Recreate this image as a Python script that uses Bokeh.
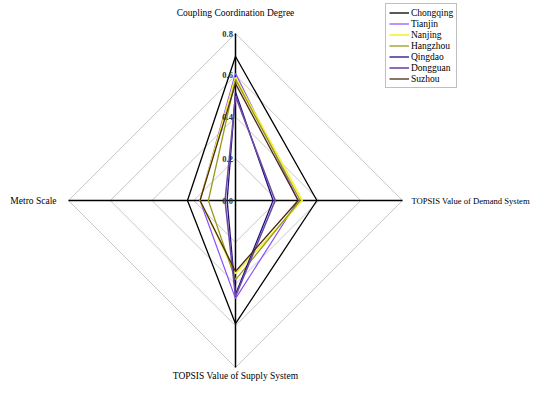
import numpy as np
from bokeh.plotting import figure
from bokeh.models import Legend, LegendItem
from bokeh.core.properties import value
from bokeh.embed import file_html
from bokeh.resources import INLINE

# ---- data ----
axis_names = ["Coupling Coordination Degree", "TOPSIS Value of Demand System",
              "TOPSIS Value of Supply System", "Metro Scale"]
cities = ["Chongqing", "Tianjin", "Nanjing", "Hangzhou", "Qingdao", "Dongguan", "Suzhou"]
ccd    = [0.69, 0.61, 0.59, 0.58, 0.52, 0.50, 0.56]
demand = [0.39, 0.30, 0.32, 0.31, 0.18, 0.19, 0.30]
supply = [0.59, 0.47, 0.35, 0.38, 0.45, 0.46, 0.34]
metro  = [0.23, 0.17, 0.17, 0.13, 0.04, 0.05, 0.17]
tick_values = [0.0, 0.2, 0.4, 0.6, 0.8]
tick_labels = ["0.0", "0.2", "0.4", "0.6", "0.8"]

colors = ["#000000", "#8a4dff", "#f4f032", "#9a9a1a", "#1c1280", "#6e4a9e", "#4a2a10"]
widths = [1.3, 1.2, 1.6, 1.3, 1.3, 1.6, 1.3]

# ---- layout ----
W, H = 534, 382
cx, cy = 235, 200           # centre in figure pixels (from top-left)
s = 167 / 0.8               # pixels per unit
rmax = 0.8
angles = np.deg2rad([90, 0, 270, 180])

x0 = -cx / s
x1 = (W - cx) / s
y1 = cy / s
y0 = -(H - cy) / s

p = figure(width=W, height=H, x_range=(x0, x1), y_range=(y0, y1),
           output_backend="svg", toolbar_location=None, min_border=0)
p.axis.visible = False
p.grid.visible = False
p.outline_line_color = None
p.background_fill_color = "white"

# grid diamonds
for t in tick_values[1:]:
    xs = list(t * np.cos(angles)) + [t * np.cos(angles[0])]
    ys = list(t * np.sin(angles)) + [t * np.sin(angles[0])]
    p.line(xs, ys, line_color="#c8c8c8", line_width=1)

# spokes
for a in angles:
    p.line([0, rmax * np.cos(a)], [0, rmax * np.sin(a)], line_color="#000000", line_width=1.5)

# series
items = []
for i, c in enumerate(cities):
    vals = [ccd[i], demand[i], supply[i], metro[i]]
    xs = [v * np.cos(a) for v, a in zip(vals, angles)]
    ys = [v * np.sin(a) for v, a in zip(vals, angles)]
    xs.append(xs[0]); ys.append(ys[0])
    r = p.line(xs, ys, line_color=colors[i], line_width=widths[i])
    items.append(LegendItem(label=c, renderers=[r]))

# tick labels along top spoke
p.text(x=[-0.012] * len(tick_values), y=tick_values, text=tick_labels,
       text_font=value("Liberation Serif"), text_font_size="8.5px",
       text_font_style="bold", text_color="#333333",
       text_align="right", text_baseline="middle")

# axis names
font = value("Liberation Serif")
p.text(x=[0], y=[rmax + 21 / s], text=[axis_names[0]],
       text_font=font, text_font_size="9.5px",
       text_align="center", text_baseline="middle", text_color="#000000")
p.text(x=[rmax + 9 / s], y=[0], text=[axis_names[1]],
       text_font=font, text_font_size="8.6px",
       text_align="left", text_baseline="middle", text_color="#000000")
p.text(x=[0], y=[y0 + 7 / s], text=[axis_names[2]],
       text_font=font, text_font_size="9.5px",
       text_align="center", text_baseline="middle", text_color="#000000")
p.text(x=[-rmax - 12 / s], y=[0], text=[axis_names[3]],
       text_font=font, text_font_size="9.5px",
       text_align="right", text_baseline="middle", text_color="#000000")

legend = Legend(items=items, location=(385, 294),
                label_text_font="Liberation Serif", label_text_font_size="9.5px",
                label_text_color="#000000",
                glyph_width=20, glyph_height=11, label_height=11, label_standoff=2,
                spacing=0, padding=3, margin=0,
                border_line_color="#808080", border_line_width=1,
                background_fill_alpha=1.0)
p.add_layout(legend, "center")

open("out.html", "w").write(file_html(p, INLINE))
